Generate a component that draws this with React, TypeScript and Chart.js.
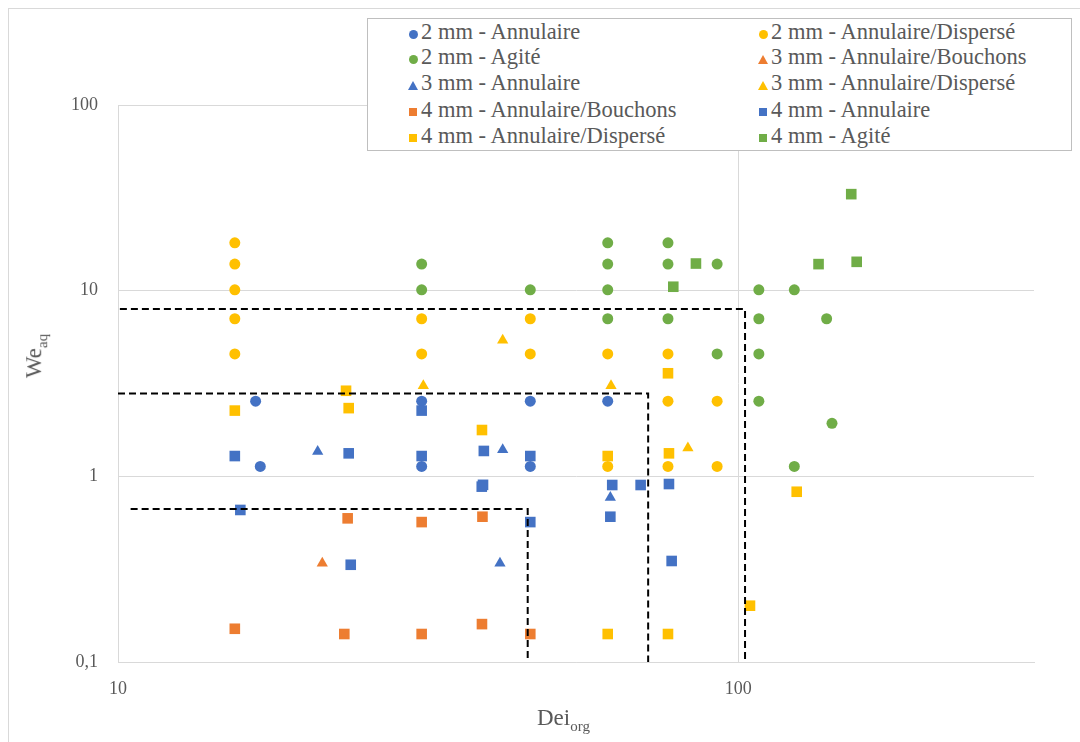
import React, { useEffect, useRef } from "react";
import { Chart, registerables } from "chart.js";

Chart.register(...registerables);

const FONT = "'Liberation Serif', 'LiberationSerif', Tinos, 'DejaVu Serif', serif";
const TEXT = "#595959";
const GRID = "#d9d9d9";

const BLUE = "#4472C4";
const ORANGE = "#ED7D31";
const GREEN = "#70AD47";
const YELLOW = "#FFC000";

// Axis ticks
const xTicks = [10, 100];
const xTickLabels = ["10", "100"];
const yTicks = [0.1, 1, 10, 100];
const yTickLabels = ["0,1", "1", "10", "100"];

// Series names
const seriesNames = [
  "2 mm - Annulaire",
  "2 mm - Annulaire/Dispersé",
  "2 mm - Agité",
  "3 mm - Annulaire/Bouchons",
  "3 mm - Annulaire",
  "3 mm - Annulaire/Dispersé",
  "4 mm - Annulaire/Bouchons",
  "4 mm - Annulaire",
  "4 mm - Annulaire/Dispersé",
  "4 mm - Agité",
];
const seriesColors = [BLUE, YELLOW, GREEN, ORANGE, BLUE, YELLOW, ORANGE, BLUE, YELLOW, GREEN];
const seriesShapes = ["circle", "circle", "circle", "triangle", "triangle", "triangle", "rect", "rect", "rect", "rect"];

// 2 mm - Annulaire
const s1X = [16.67, 16.96, 30.88, 30.88, 46.22, 46.22, 61.62];
const s1Y = [2.54, 1.13, 2.54, 1.13, 2.54, 1.13, 2.54];
// 2 mm - Annulaire/Dispersé
const s2X = [15.43, 15.43, 15.43, 15.43, 15.43, 30.88, 30.88, 46.22, 46.22, 61.62, 61.62, 77.07, 77.07, 77.07, 92.5, 92.5];
const s2Y = [18.1, 13.9, 10.1, 7.06, 4.56, 7.06, 4.56, 7.06, 4.56, 4.56, 1.13, 4.56, 2.54, 1.13, 2.54, 1.13];
// 2 mm - Agité
const s3X = [30.88, 30.88, 46.22, 61.62, 61.62, 61.62, 61.62, 77.07, 77.07, 77.07, 92.5, 92.5, 108.0, 108.0, 108.0, 108.0, 123.2, 123.2, 138.9, 141.7];
const s3Y = [13.9, 10.1, 10.1, 18.1, 13.9, 10.1, 7.06, 18.1, 13.9, 7.06, 13.9, 4.56, 10.1, 7.06, 4.56, 2.54, 10.1, 1.13, 7.06, 1.93];
// 3 mm - Annulaire/Bouchons
const s4X = [21.35];
const s4Y = [0.34];
// 3 mm - Annulaire
const s5X = [20.99, 41.72, 41.3, 62.22];
const s5Y = [1.36, 1.39, 0.34, 0.77];
// 3 mm - Annulaire/Dispersé
const s6X = [31.07, 41.72, 62.38, 82.99];
const s6Y = [3.08, 5.4, 3.08, 1.42];
// 4 mm - Annulaire/Bouchons
const s7X = [15.43, 23.46, 23.17, 30.88, 30.88, 38.7, 38.63, 46.22];
const s7Y = [0.151, 0.594, 0.1415, 0.567, 0.1415, 0.606, 0.16, 0.1415];
// 4 mm - Annulaire
const s8X = [15.43, 15.75, 23.55, 23.73, 30.88, 30.88, 38.9, 38.78, 38.6, 46.22, 46.22, 62.66, 62.22, 69.63, 77.35, 78.13];
const s8Y = [1.286, 0.659, 1.33, 0.334, 2.26, 1.286, 1.37, 0.9, 0.88, 1.286, 0.567, 0.898, 0.606, 0.898, 0.909, 0.35];
// 4 mm - Annulaire/Dispersé
const s9X = [15.43, 23.32, 23.55, 38.63, 61.62, 61.62, 77.07, 77.35, 77.07, 104.5, 124.3];
const s9Y = [2.26, 2.89, 2.33, 1.776, 1.286, 0.1415, 3.59, 1.33, 0.1415, 0.201, 0.826];
// 4 mm - Agité
const s10X = [85.5, 78.6, 134.8, 152.2, 155.3];
const s10Y = [14.0, 10.5, 13.9, 33.1, 14.3];

const seriesX = [s1X, s2X, s3X, s4X, s5X, s6X, s7X, s8X, s9X, s10X];
const seriesY = [s1Y, s2Y, s3Y, s4Y, s5Y, s6Y, s7Y, s8Y, s9Y, s10Y];

// Dashed boundary lines
const line1X = [10.07, 102.6, 102.6];
const line1Y = [7.96, 7.96, 0.1];
const line2X = [10, 71.6, 71.6];
const line2Y = [2.79, 2.79, 0.1];
const line3X = [10.48, 45.78, 45.78];
const line3Y = [0.667, 0.667, 0.1];
const linesX = [line1X, line2X, line3X];
const linesY = [line1Y, line2Y, line3Y];

const pointRadiusFor = (shape: string) => (shape === "circle" ? 5.5 : shape === "rect" ? 7.5 : 6.5);

function LegendMarker({ shape, color }: { shape: string; color: string }) {
  if (shape === "circle") {
    return <div style={{ width: 9, height: 9, borderRadius: "50%", background: color }} />;
  }
  if (shape === "rect") {
    return <div style={{ width: 8, height: 8, background: color }} />;
  }
  return (
    <div
      style={{
        width: 0,
        height: 0,
        borderLeft: "5px solid transparent",
        borderRight: "5px solid transparent",
        borderBottom: `9px solid ${color}`,
      }}
    />
  );
}

export default function App() {
  const canvasRef = useRef<HTMLCanvasElement | null>(null);

  useEffect(() => {
    if (!canvasRef.current) return;
    const datasets: any[] = [];
    linesX.forEach((lx, li) => {
      datasets.push({
        label: "line" + li,
        data: lx.map((x, i) => ({ x, y: linesY[li][i] })),
        showLine: true,
        borderColor: "#000000",
        borderWidth: 2,
        borderDash: [7, 4],
        pointRadius: 0,
        fill: false,
        order: 0,
      });
    });
    seriesNames.forEach((name, si) => {
      datasets.push({
        label: name,
        data: seriesX[si].map((x, i) => ({ x, y: seriesY[si][i] })),
        pointStyle: seriesShapes[si],
        pointRadius: pointRadiusFor(seriesShapes[si]),
        pointBackgroundColor: seriesColors[si],
        pointBorderColor: seriesColors[si],
        pointBorderWidth: 0,
        backgroundColor: seriesColors[si],
        borderColor: seriesColors[si],
        showLine: false,
        order: 20 - si,
      });
    });

    const chart = new Chart(canvasRef.current, {
      type: "scatter",
      data: { datasets },
      options: {
        animation: false,
        responsive: false,
        devicePixelRatio: 1,
        layout: { padding: { left: 8, top: 105, right: 46, bottom: 0 } },
        plugins: {
          legend: { display: false },
          tooltip: { enabled: false },
          title: { display: false },
        },
        scales: {
          x: {
            type: "logarithmic",
            min: 10,
            max: 300,
            afterBuildTicks: (axis: any) => {
              axis.ticks = xTicks.map((v) => ({ value: v }));
            },
            afterFit: (axis: any) => {
              axis.height = 80;
            },
            ticks: {
              autoSkip: false,
              maxRotation: 0,
              padding: 16,
              color: TEXT,
              font: { family: FONT, size: 18 },
              callback: (_v: any, i: number) => xTickLabels[i],
            },
            grid: { color: GRID, drawTicks: false, lineWidth: 1 },
            border: { color: GRID, width: 1 },
          },
          y: {
            type: "logarithmic",
            min: 0.1,
            max: 100,
            afterBuildTicks: (axis: any) => {
              axis.ticks = yTicks.map((v) => ({ value: v }));
            },
            afterFit: (axis: any) => {
              axis.width = 110;
            },
            ticks: {
              autoSkip: false,
              padding: 20,
              color: TEXT,
              font: { family: FONT, size: 18 },
              callback: (_v: any, i: number) => yTickLabels[i],
            },
            grid: { color: GRID, drawTicks: false, lineWidth: 1 },
            border: { color: GRID, width: 1 },
          },
        },
      } as any,
    });
    return () => chart.destroy();
  }, []);

  const rowCenters = [15, 40, 66, 93, 119];

  return (
    <div
      style={{
        position: "fixed",
        left: 0,
        top: 0,
        width: 1080,
        height: 742,
        overflow: "hidden",
        background: "#ffffff",
      }}
    >
      <div
        style={{
          position: "absolute",
          left: 8,
          top: 8,
          width: 1100,
          height: 760,
          border: `1px solid ${GRID}`,
          boxSizing: "border-box",
        }}
      />
      <canvas
        ref={canvasRef}
        width={1080}
        height={742}
        style={{ position: "absolute", left: 0, top: 0, width: 1080, height: 742 }}
      />
      {/* Legend */}
      <div
        style={{
          position: "absolute",
          left: 367,
          top: 18,
          width: 705,
          height: 133,
          boxSizing: "border-box",
          border: "1px solid #bfbfbf",
          background: "#ffffff",
          fontFamily: FONT,
          fontSize: 22.5,
          color: TEXT,
        }}
      >
        {seriesNames.map((name, si) => {
          const col = si % 2;
          const row = Math.floor(si / 2);
          const cx = col === 0 ? 45 : 395;
          const cy = rowCenters[row];
          return (
            <div key={name}>
              <div
                style={{
                  position: "absolute",
                  left: cx - 5,
                  top: cy - 5,
                  width: 10,
                  height: 10,
                  display: "flex",
                  alignItems: "center",
                  justifyContent: "center",
                }}
              >
                <LegendMarker shape={seriesShapes[si]} color={seriesColors[si]} />
              </div>
              <div
                style={{
                  position: "absolute",
                  left: cx + 8,
                  top: cy - 15,
                  height: 26,
                  lineHeight: "26px",
                  whiteSpace: "nowrap",
                }}
              >
                {name}
              </div>
            </div>
          );
        })}
      </div>
      {/* X axis title */}
      <div
        style={{
          position: "absolute",
          left: 537,
          top: 706,
          lineHeight: "23px",
          fontFamily: FONT,
          fontSize: 23,
          color: TEXT,
          whiteSpace: "nowrap",
        }}
      >
        Dei<sub style={{ fontSize: 15 }}>org</sub>
      </div>
      {/* Y axis title */}
      <div
        style={{
          position: "absolute",
          left: 38,
          top: 356,
          transform: "translate(-50%, -50%) rotate(-90deg)",
          lineHeight: "23px",
          fontFamily: FONT,
          fontSize: 23,
          color: TEXT,
          whiteSpace: "nowrap",
        }}
      >
        We<sub style={{ fontSize: 15 }}>aq</sub>
      </div>
    </div>
  );
}
